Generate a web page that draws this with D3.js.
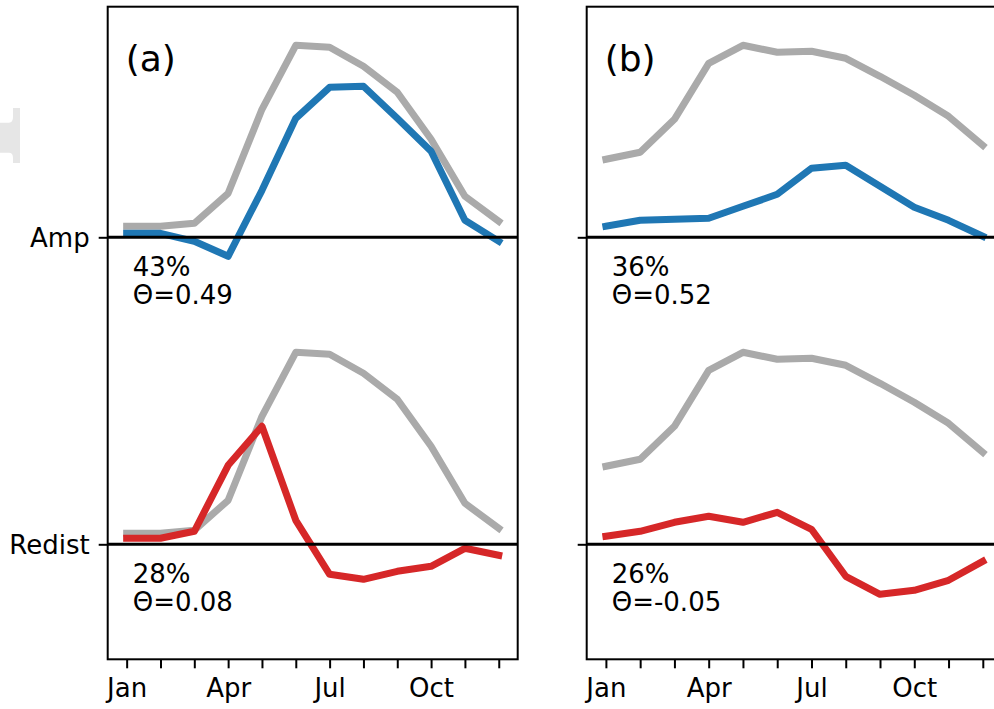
<!DOCTYPE html>
<html>
<head>
<meta charset="utf-8">
<script src="https://cdnjs.cloudflare.com/ajax/libs/d3/7.8.5/d3.min.js"></script>
<style>
body{margin:0;background:#fff;}
text{font-family:"DejaVu Sans",sans-serif;fill:#000;}
</style>
</head>
<body>
<div id="fig"></div>
<script>
var width = 994,
height = 709,
fs = "26px";

// data (arbitrary units)
var months = ["Jan","Feb","Mar","Apr","May","Jun","Jul","Aug","Sep","Oct","Nov","Dec"];
var tickLabels = ["Jan","","","Apr","","","Jul","","","Oct","",""];
var rowNames = ["Amp","Redist"];
var rowOffsets = [307, 0];

var grayA = [11, 11, 14, 44, 128, 192, 190, 171, 145, 98, 41, 16];
var ampA  = [4, 4, -4, -19, 47, 119, 150, 151, 119, 86, 17, -4];
var redA  = [6, 6, 13, 79, 118, 24, -30, -35, -27, -22, -4, -11];

var grayB = [78, 85, 118, 174, 192, 185, 186, 179, 161, 142, 121, 92];
var ampB  = [11, 17, 18, 19, 31, 43, 69, 72, 51, 30, 17, 1];
var redB  = [8, 13, 22, 28, 22, 32, 15, -32, -50, -46, -36, -17];

var pctA = ["43%","28%"], thetaA = ["Θ=0.49","Θ=0.08"];
var pctB = ["36%","26%"], thetaB = ["Θ=0.52","Θ=-0.05"];

var panels = [
	{label:"(a)", x0:107.7, x1:517.7, gray:grayA, amp:ampA, red:redA, pct:pctA, theta:thetaA, names:true},
	{label:"(b)", x0:586.7, x1:1002, gray:grayB, amp:ampB, red:redB, pct:pctB, theta:thetaB, names:false}
];

var svg = d3.select("#fig").append("svg")
	.attr("width",width)
	.attr("height",height);

// stray grey shape on the left edge
svg.append("path")
	.attr("d","M0,122.7 L9,122.7 Q13,122.7 13,117 L13,108 L20,108 L20,163 L13,163 L13,158 Q13,152.7 9,152.7 L0,152.7 Z")
	.attr("fill","#e6e6e6");

var y = d3.scaleLinear().domain([-115, 537.6]).range([659.3, 6.7]);

panels.forEach(function(p){
	var pad = (p.x1-p.x0)*0.0455;
	var x = d3.scalePoint().domain(months).range([p.x0+pad+0.3, p.x1-pad-0.3]);
	var g = svg.append("g");

	var line = function(vals, off){
		return d3.line()
			.x(function(d,i){return x(months[i]);})
			.y(function(d){return y(d+off);})(vals);
	};

	// grey climatology in both rows
	rowOffsets.forEach(function(off){
		g.append("path")
			.attr("d",line(p.gray,off))
			.attr("fill","none")
			.attr("stroke","#aaaaaa")
			.attr("stroke-width",7)
			.attr("stroke-linejoin","round")
			.attr("stroke-linecap","square");
	});
	g.append("path")
		.attr("d",line(p.amp,rowOffsets[0]))
		.attr("fill","none")
		.attr("stroke","#1f77b4")
		.attr("stroke-width",7)
		.attr("stroke-linejoin","round")
		.attr("stroke-linecap","square");
	g.append("path")
		.attr("d",line(p.red,rowOffsets[1]))
		.attr("fill","none")
		.attr("stroke","#d62728")
		.attr("stroke-width",7)
		.attr("stroke-linejoin","round")
		.attr("stroke-linecap","square");

	// zero lines
	rowOffsets.forEach(function(off,k){
		g.append("line")
			.attr("x1",p.x0).attr("x2",p.x1)
			.attr("y1",y(off)).attr("y2",y(off))
			.attr("stroke","#000")
			.attr("stroke-width",3);
		g.append("text")
			.attr("x",p.x0+25).attr("y",y(off)+39)
			.style("font-size",fs)
			.text(p.pct[k]);
		g.append("text")
			.attr("x",p.x0+25).attr("y",y(off)+67)
			.style("font-size",fs)
			.text(p.theta[k]);
	});

	// y axis: row names as ticks
	var yAxis = d3.axisLeft(y)
		.tickValues(rowOffsets)
		.tickSize(9)
		.tickPadding(9)
		.tickFormat(function(d,i){return p.names ? rowNames[i] : "";});
	var ya = g.append("g").attr("transform","translate("+p.x0+",0)").call(yAxis);
	ya.select(".domain").remove();
	ya.selectAll(".tick line").attr("stroke-width",2);
	ya.selectAll(".tick text").style("font-size",fs).attr("font-family","DejaVu Sans").attr("dy","0.36em");

	// x axis
	var xAxis = d3.axisBottom(x)
		.tickSize(9)
		.tickPadding(10)
		.tickFormat(function(d,i){return tickLabels[i];});
	var xa = g.append("g").attr("transform","translate(0,659.3)").call(xAxis);
	xa.select(".domain").remove();
	xa.selectAll(".tick line").attr("stroke-width",2);
	xa.selectAll(".tick text").style("font-size",fs).attr("font-family","DejaVu Sans").attr("dy","0.72em");

	// frame
	g.append("rect")
		.attr("x",p.x0).attr("y",6.7)
		.attr("width",p.x1-p.x0).attr("height",659.3-6.7)
		.attr("fill","none")
		.attr("stroke","#000")
		.attr("stroke-width",2);

	g.append("text")
		.attr("x",p.x0+18).attr("y",71)
		.style("font-size","36px")
		.text(p.label);
});
</script>
</body>
</html>
